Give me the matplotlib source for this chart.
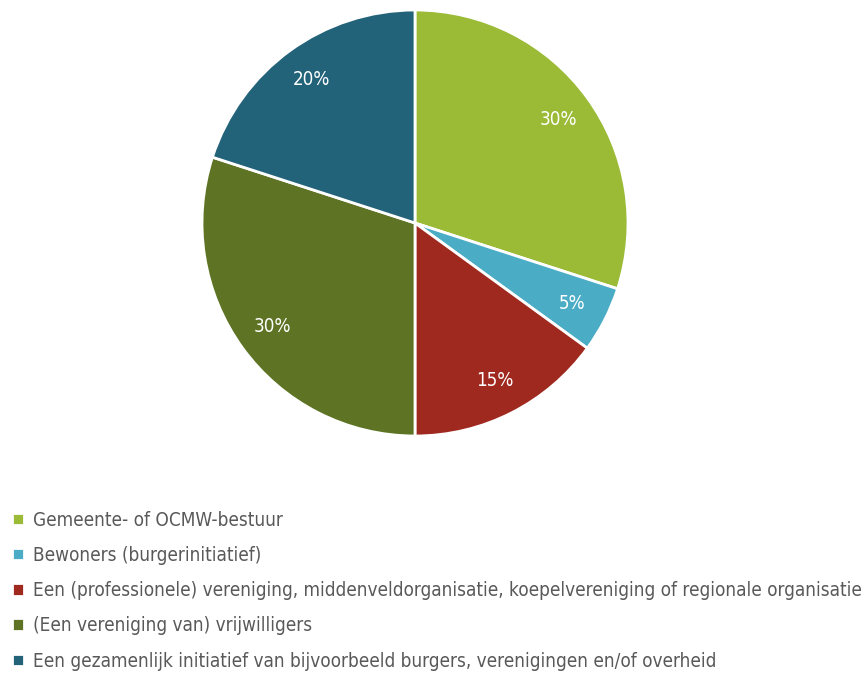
import matplotlib.pyplot as plt
from matplotlib import font_manager

# Gegevens
labels = [
    'Gemeente- of OCMW-bestuur',
    'Bewoners (burgerinitiatief)',
    'Een (professionele) vereniging, middenveldorganisatie, koepelvereniging of regionale organisatie',
    '(Een vereniging van) vrijwilligers',
    'Een gezamenlijk initiatief van bijvoorbeeld burgers, verenigingen en/of overheid',
]
values = [30, 5, 15, 30, 20]
colors = ['#9bbb37', '#4bacc6', '#a0291f', '#5e7424', '#236379']

names = {f.name for f in font_manager.fontManager.ttflist}
fam = 'Liberation Sans Narrow' if 'Liberation Sans Narrow' in names else 'DejaVu Sans'
plt.rcParams['font.family'] = [fam, 'DejaVu Sans']
plt.rcParams['font.stretch'] = 'condensed'

W, H = 868, 674
fig = plt.figure(figsize=(W / 100, H / 100), dpi=100)

# Taart: middelpunt ongeveer (415, 223), straal ~213 px
cx, cy, r = 415, 223, 213
ax = fig.add_axes([(cx - r) / W, (H - cy - r) / H, 2 * r / W, 2 * r / H])
wedges, texts, autotexts = ax.pie(
    values, colors=colors, startangle=90, counterclock=False,
    autopct='%d%%', pctdistance=0.83, radius=1.0,
    wedgeprops=dict(edgecolor='white', linewidth=2),
    textprops=dict(color='white', fontsize=13.5),
)
ax.set_xlim(-1, 1)
ax.set_ylim(-1, 1)
ax.set_aspect('equal')
ax.axis('off')

# Legenda
fig.legend(wedges, labels, loc='upper left', bbox_to_anchor=(4 / W, 1 - 503 / H),
           frameon=False, fontsize=13.6, handlelength=0.65, handleheight=0.65,
           handletextpad=0.5, labelspacing=0.86, labelcolor='#595959',
           borderaxespad=0)

fig.savefig('out.png', dpi=100)
